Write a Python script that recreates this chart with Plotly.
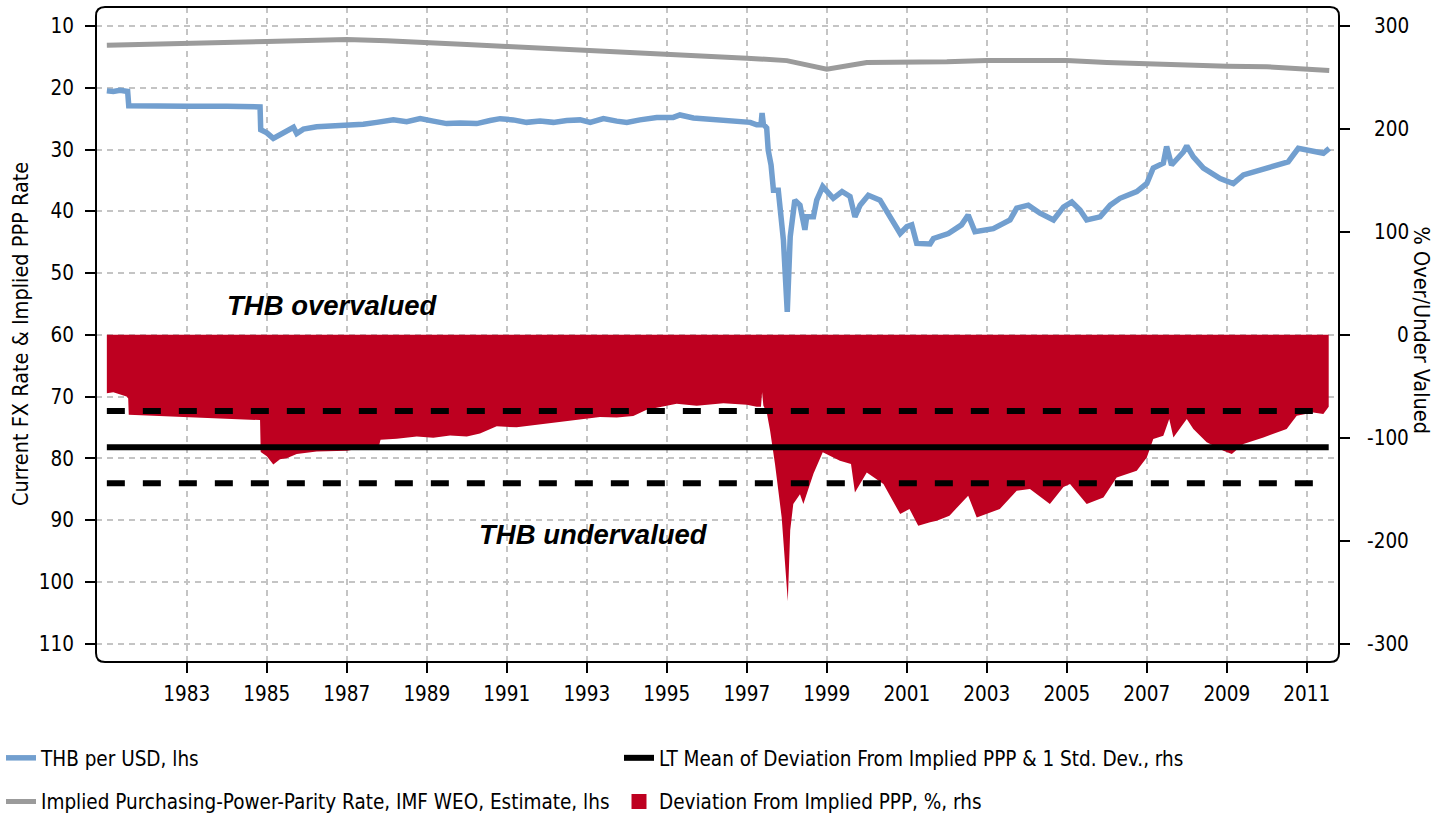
import plotly.graph_objects as go

# ---------------- data ----------------
fx_dates = ["1981-01-01","1981-03-01","1981-05-01","1981-07-10","1981-07-20","1982-01-01","1983-01-01","1984-01-01",
            "1984-10-31","1984-11-06","1985-01-01","1985-03-01","1985-05-01","1985-07-01","1985-09-01","1985-10-01",
            "1985-12-01","1986-04-01","1986-10-01","1987-01-01","1987-06-01","1987-10-01","1988-03-01","1988-07-01",
            "1988-11-01","1989-03-01","1989-07-01","1989-11-01","1990-04-01","1990-08-01","1990-11-01","1991-03-01",
            "1991-07-01","1991-11-01","1992-03-01","1992-07-01","1992-11-01","1993-02-01","1993-06-01","1993-10-01",
            "1994-01-01","1994-05-01","1994-10-01","1995-03-01","1995-05-01","1995-09-01","1996-01-01","1996-06-01",
            "1996-11-01","1997-02-01","1997-04-01","1997-05-10","1997-05-20","1997-06-01","1997-07-01","1997-07-15",
            "1997-08-10","1997-09-01","1997-10-15","1997-11-01","1997-12-01","1998-01-05","1998-01-15","1998-02-01",
            "1998-03-15","1998-05-01","1998-06-15","1998-07-01","1998-09-01","1998-10-01","1998-11-25","1999-03-01",
            "1999-05-20","1999-08-01","1999-09-15","1999-11-01","2000-01-15","2000-05-01","2000-08-01","2000-11-01",
            "2001-01-01","2001-02-15","2001-04-01","2001-08-01","2001-09-01","2002-01-15","2002-05-15","2002-07-15",
            "2002-09-15","2003-03-01","2003-08-01","2003-10-01","2004-01-15","2004-05-01","2004-09-01","2004-12-01",
            "2005-02-15","2005-05-01","2005-07-01","2005-11-01","2006-02-01","2006-05-01","2006-10-01","2007-01-01",
            "2007-03-01","2007-06-01","2007-07-01","2007-08-15","2007-12-01","2008-01-01","2008-03-01","2008-06-01",
            "2008-11-01","2009-03-01","2009-06-01","2009-11-01","2010-04-01","2010-07-15","2010-10-15","2011-03-01",
            "2011-06-01","2011-07-25"]
fx_values = [20.5,20.6,20.4,20.6,22.9,23.0,23.0,23.0,
             23.1,26.8,27.3,28.2,27.6,27.0,26.4,27.4,
             26.7,26.3,26.2,26.0,25.9,25.6,25.2,25.5,
             25.0,25.4,25.8,25.7,25.8,25.3,25.0,25.2,
             25.6,25.4,25.6,25.3,25.2,25.6,25.0,25.4,
             25.6,25.2,24.8,24.8,24.4,24.9,25.1,25.2,
             25.4,25.6,26.0,26.0,24.1,25.9,26.5,30.1,
             32.5,36.6,36.6,40.3,44.7,56.3,48.0,44.1,
             38.2,39.0,43.0,40.9,40.9,38.2,36.0,37.9,
             36.8,37.6,40.9,39.0,37.4,38.2,40.9,43.6,
             42.5,42.2,45.2,45.3,44.4,43.6,42.2,40.6,
             43.3,42.8,41.4,39.5,39.0,40.3,41.4,39.3,
             38.5,39.8,41.4,40.9,39.0,37.9,36.8,35.5,
             33.0,32.2,29.5,32.5,30.4,29.4,31.2,33.0,
             34.7,35.5,34.1,33.3,32.5,32.0,29.8,30.4,
             30.6,29.8]

ppp_dates = ["1981-01-01","1982-01-01","1983-01-01","1984-01-01","1985-01-01","1986-01-01","1987-01-01","1988-01-01",
             "1989-01-01","1990-01-01","1991-01-01","1992-01-01","1993-01-01","1994-01-01","1995-01-01","1996-01-01",
             "1997-01-01","1998-01-01","1999-01-01","2000-01-01","2001-01-01","2002-01-01","2003-01-01","2004-01-01",
             "2005-01-01","2006-01-01","2007-01-01","2008-01-01","2009-01-01","2010-01-01","2011-01-01","2011-07-25"]
ppp_values = [13.1,13.0,12.85,12.8,12.5,12.35,12.2,12.4,
              12.8,13.0,13.3,13.6,13.9,14.1,14.4,14.9,
              15.2,15.6,17.0,15.9,15.9,15.8,15.6,15.5,
              15.6,15.9,16.15,16.3,16.5,16.6,17.0,17.2]

dev_dates = ["1981-01-01","1981-03-01","1981-06-30","1981-07-15","1981-07-20","1982-06-01","1983-06-01","1984-06-01",
             "1984-10-31","1984-11-06","1985-01-01","1985-03-01","1985-05-01","1985-07-01","1985-10-01","1986-04-01",
             "1987-01-01","1987-06-01","1987-10-25","1987-11-05","1988-04-01","1988-10-01","1989-03-01","1989-08-01",
             "1990-01-01","1990-05-01","1990-10-01","1991-04-01","1991-09-01","1992-01-01","1992-06-01","1992-11-01",
             "1993-05-01","1993-10-01","1994-03-01","1994-07-01","1995-04-01","1995-10-01","1996-06-01","1997-01-01",
             "1997-04-01","1997-05-10","1997-05-20","1997-06-01","1997-07-01","1997-08-01","1997-09-15","1997-11-15",
             "1998-01-10","1998-02-01","1998-03-01","1998-05-01","1998-06-01","1998-09-01","1998-11-25","1999-05-01",
             "1999-08-10","1999-09-15","2000-01-01","2000-06-01","2000-11-01","2001-01-25","2001-04-15","2001-08-01",
             "2001-10-01","2002-01-25","2002-07-15","2002-10-01","2003-04-30","2003-10-01","2004-01-30","2004-07-30",
             "2004-12-01","2005-01-30","2005-07-01","2005-12-01","2006-04-01","2006-10-01","2007-01-01","2007-03-01",
             "2007-06-01","2007-07-25","2007-09-01","2008-01-01","2008-03-01","2008-07-01","2008-12-01","2009-02-15",
             "2009-06-01","2009-12-01","2010-07-01","2010-10-01","2011-03-01","2011-06-01","2011-07-20"]
dev_values = [-57,-56,-60,-62,-77.7,-79,-80.5,-82,
              -83,-114,-118,-126,-121,-120,-116,-113.5,
              -112.7,-110,-107,-102,-101,-99,-100,-98,
              -99,-96,-89,-90,-88,-86.5,-84,-82,
              -80,-80.5,-79,-73,-67,-69,-66.7,-68,
              -70,-70,-56,-69,-75,-93,-125.6,-177.5,
              -259,-190,-164.5,-155,-164.5,-135,-114.3,-122.4,
              -125.6,-153.2,-133.8,-145.1,-174.2,-169.4,-185.6,-182.3,
              -180.7,-175.8,-156.4,-177.5,-169.4,-151.6,-149.9,-164.5,
              -148,-145.1,-164.5,-158.1,-138.7,-132.1,-119.2,-101.4,
              -98.1,-81.9,-99.8,-81.9,-91.6,-104.6,-112.7,-115.9,
              -106.2,-99.8,-91.6,-78.7,-75.5,-77.1,-70]

lt_mean = -109.3
lt_std = 35.1

series_names = ["THB per USD, lhs",
                "Implied Purchasing-Power-Parity Rate, IMF WEO, Estimate, lhs",
                "LT Mean of Deviation From Implied PPP & 1 Std. Dev., rhs",
                "Deviation From Implied PPP, %, rhs"]
x_tick_years = list(range(1983, 2012, 2))
left_ticks = [10, 20, 30, 40, 50, 60, 70, 80, 90, 100, 110]
right_ticks = [300, 200, 100, 0, -100, -200, -300]
left_title = "Current FX Rate & Implied PPP Rate"
right_title = "% Over/Under Valued"

# ---------------- styling ----------------
FONT = "DejaVu Sans Condensed, Liberation Sans Narrow, sans-serif"
BLUE = "#729fcf"
GRAY = "#9b9b9b"
RED = "#be0020"
GRID = "#c4c4c4"
TS = 20.5   # tick font size
LS = 20.5   # legend font size

W, H = 1441, 819
ML, MR, MT, MB = 96, 102, 7, 157
PW, PH = W - ML - MR, H - MT - MB

fig = go.Figure()

# deviation fill (rhs)
fig.add_trace(go.Scatter(x=dev_dates, y=dev_values, yaxis="y2", mode="lines",
                         line=dict(width=0, color=RED), fill="tozeroy", fillcolor=RED,
                         showlegend=False, hoverinfo="skip"))
# mean and std lines (rhs)
span = [dev_dates[0], dev_dates[-1]]
for v in (lt_mean + lt_std, lt_mean - lt_std):
    fig.add_trace(go.Scatter(x=span, y=[v, v], yaxis="y2", mode="lines",
                             line=dict(color="black", width=6, dash="18px,18px"),
                             showlegend=False))
fig.add_trace(go.Scatter(x=span, y=[lt_mean, lt_mean], yaxis="y2", mode="lines",
                         line=dict(color="black", width=6), name=series_names[2],
                         legend="legend2", legendgroup="c", legendrank=1))
fig.add_trace(go.Scatter(x=[None], y=[None], yaxis="y2", mode="markers",
                         marker=dict(symbol="square", size=15, color=RED),
                         name=series_names[3], legend="legend2", legendgroup="d", legendrank=2))
# lhs lines
fig.add_trace(go.Scatter(x=ppp_dates, y=ppp_values, mode="lines",
                         line=dict(color=GRAY, width=5), name=series_names[1],
                         legend="legend", legendgroup="b", legendrank=2))
fig.add_trace(go.Scatter(x=fx_dates, y=fx_values, mode="lines",
                         line=dict(color=BLUE, width=5.5), name=series_names[0],
                         legend="legend", legendgroup="a", legendrank=1))

axis_common = dict(ticks="outside", ticklen=10, tickwidth=1.5, tickcolor="black",
                   tickfont=dict(family=FONT, size=TS, color="black"), showline=False, zeroline=False)

legend_common = dict(orientation="v", xanchor="left", yanchor="top", xref="container", yref="container",
                     tracegroupgap=14, traceorder="grouped", bgcolor="rgba(0,0,0,0)",
                     font=dict(family=FONT, size=LS, color="black"))

fig.update_layout(
    width=W, height=H,
    margin=dict(l=ML, r=MR, t=MT, b=MB, pad=0, autoexpand=False),
    paper_bgcolor="white", plot_bgcolor="white",
    font=dict(family=FONT, size=TS, color="black"),
    xaxis=dict(type="date", range=["1980-09-24", "2011-10-22"],
               tickvals=[f"{y}-01-01" for y in x_tick_years], ticktext=[str(y) for y in x_tick_years],
               showgrid=True, gridcolor=GRID, gridwidth=1.5, griddash="6px,5px",
               ticklabelstandoff=3, **axis_common),
    yaxis=dict(range=[112.98, 6.92], tickvals=left_ticks, showgrid=True, gridcolor=GRID, gridwidth=1.5,
               griddash="6px,5px", ticklabelstandoff=7, **axis_common),
    yaxis2=dict(overlaying="y", side="right", range=[-317.9, 318.2], tickvals=right_ticks,
                showticklabels=False, showgrid=False, **axis_common),
    legend=dict(x=1 / W, y=1 - 738 / H, **legend_common),
    legend2=dict(x=619 / W, y=1 - 738 / H, **legend_common),
    showlegend=True,
)

# right-axis tick labels (right aligned)
for v in right_ticks:
    fig.add_annotation(x=(1411 - ML) / PW, xref="paper", y=v, yref="y2", text=str(v), showarrow=False,
                       xanchor="right", yanchor="middle", font=dict(family=FONT, size=TS, color="black"))

# axis titles
fig.add_annotation(x=(6 - ML) / PW, xref="paper", y=0.5, yref="paper", text=left_title,
                   textangle=-90, showarrow=False, font=dict(family=FONT, size=21.5, color="black"))
fig.add_annotation(x=(1436 - ML) / PW, xref="paper", y=(MT + PH - 331) / PH, yref="paper",
                   text=right_title, textangle=90, showarrow=False,
                   font=dict(family=FONT, size=21.5, color="black"))

fig.add_annotation(x="1986-08-28", y=55.2, xref="x", yref="y", text="THB overvalued", showarrow=False,
                   font=dict(family="Liberation Sans, Arial, sans-serif", size=27.5, color="black",
                             weight="bold", style="italic"))
fig.add_annotation(x="1993-02-28", y=92.4, xref="x", yref="y", text="THB undervalued", showarrow=False,
                   font=dict(family="Liberation Sans, Arial, sans-serif", size=27.5, color="black",
                             weight="bold", style="italic"))

# rounded frame
rx, ry = 9 / PW, 9 / PH
path = (f"M {rx},0 L {1-rx},0 Q 1,0 1,{ry} L 1,{1-ry} Q 1,1 {1-rx},1 L {rx},1 Q 0,1 0,{1-ry} "
        f"L 0,{ry} Q 0,0 {rx},0 Z")
fig.add_shape(type="path", path=path, xref="paper", yref="paper",
              line=dict(color="black", width=2), layer="above")

fig.write_html("out.html", config={"displayModeBar": False},
               post_script="document.body.style.margin='0';document.body.style.padding='0';"
                           "document.documentElement.style.overflow='hidden';")
